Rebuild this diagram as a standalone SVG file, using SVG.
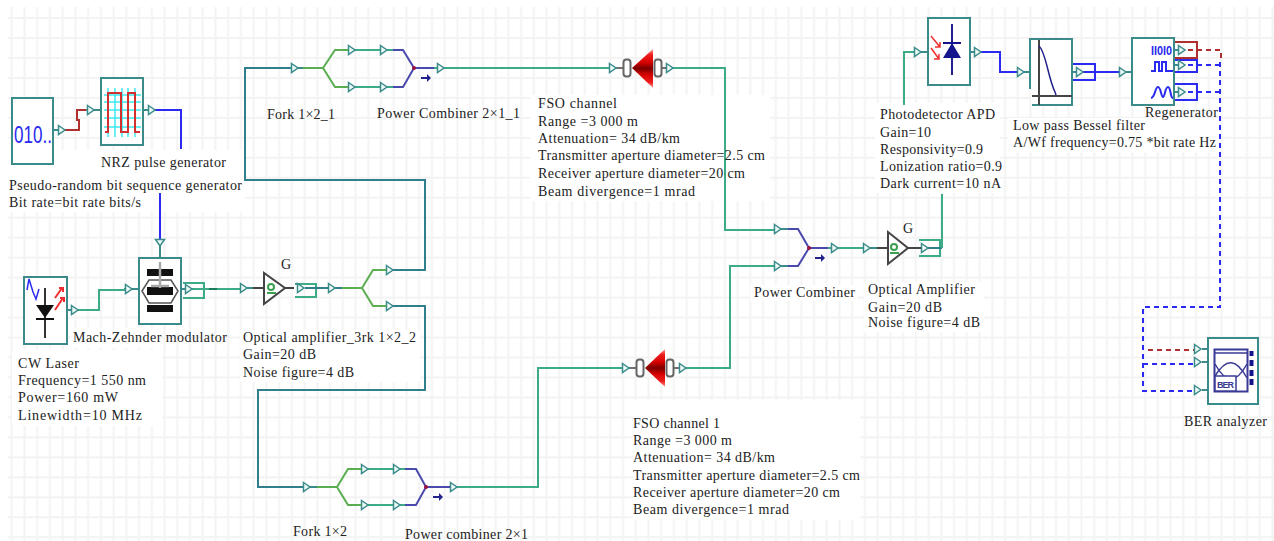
<svg xmlns="http://www.w3.org/2000/svg" xmlns:xlink="http://www.w3.org/1999/xlink" width="1274" height="541" viewBox="0 0 1274 541">
<style>
text{font-family:"Liberation Serif","Times New Roman",serif;font-size:14px;fill:#222}
.bx{fill:#fff;stroke:#3b8b8b;stroke-width:2}
.w{fill:#fff}
.l{fill:none;stroke-width:2;stroke-linejoin:miter}
.gn{stroke:#3dab88}.td{stroke:#2f7f8c}.fk{stroke:#5aae50}.pc{stroke:#4a49ac}.bl{stroke:#2a2af0}.rd{stroke:#b03030}
.st{fill:none;stroke:#3b8b8b;stroke-width:2}
.dsh{stroke-dasharray:5 4}
.pt{fill:#eefaf6;stroke:#3b8b8b;stroke-width:1.5}
</style>
<defs>
<pattern id="grid" width="12.735" height="19.97" patternUnits="userSpaceOnUse" x="5.33" y="8">
<path d="M0,9.985H12.735M6.367,0V19.97" fill="none" stroke="#f3f3f3" stroke-width="2"/>
</pattern>
<path id="tri" class="pt" d="M-3.500,-4.500L3,0L-3.500,4.500Z"/>
<path id="arr" d="M-5,-1H1V-4L5,0L1,4V1H-5Z" fill="#22228c"/>
<g id="lens"><rect x="-3.500" y="-8.500" width="7" height="17" rx="3" fill="#fff" stroke="#666" stroke-width="2"/></g>
<linearGradient id="cone" x1="0" y1="0" x2="0" y2="1"><stop offset="0" stop-color="#ffa8a8"/><stop offset=".14" stop-color="#f02020"/><stop offset=".34" stop-color="#d80000"/><stop offset=".5" stop-color="#7a0000"/><stop offset=".66" stop-color="#d80000"/><stop offset=".86" stop-color="#f02020"/><stop offset="1" stop-color="#ffa8a8"/></linearGradient>
</defs>
<rect width="1274" height="541" fill="#fff"/>
<rect x="8" y="7" width="1266" height="534" fill="url(#grid)"/>
<g id="label-backgrounds">
<rect class="w" x="5" y="150" width="240" height="62"/>
<rect class="w" x="70" y="328" width="90" height="20"/>
<rect class="w" x="12" y="350" width="150" height="76"/>
<rect class="w" x="240" y="330" width="180" height="52"/>
<rect class="w" x="530" y="95" width="240" height="106"/>
<rect class="w" x="633" y="400" width="227" height="120"/>
<rect class="w" x="875" y="103" width="125" height="90"/>
<rect class="w" x="1008" y="118" width="212" height="34"/>
<rect class="w" x="864" y="282" width="120" height="50"/>
<rect class="w" x="750" y="285" width="108" height="16"/>
</g>
<g id="connectors">
<path class="st" d="M53,130H60M86,110H101M143,110H150M160,246V258M67,310H73M124,289H139M181,289H187M240,288H253M390,270H394M390,306H394M290,68H303M304,487H317M609,68H617M666,68H674M622,368H630M679,368H687M775,229H788M775,266H788M864,248H877M915,52H928M970,52H976M1018,72H1030M1072,72H1078M1120,72H1132M1174,50H1180M1174,65H1180M1174,92H1180"/>
<path class="l rd" d="M64,130H79V120H77V110H86"/>
<path class="l bl" d="M155,110H181V149"/>
<path class="l bl" d="M160,193V240"/>
<path class="l gn" d="M78,310H99V290H127"/>
<path class="l gn" d="M183,283H204V298H183M192,289H240"/>
<path class="l" stroke="#1f7a5c" d="M209,289H217"/>
<path class="l gn" d="M295,284H316V297H295"/>
<path class="l td" d="M305,288H342"/>
<path class="l td" d="M393,270H425V180H245V68H292"/>
<path class="l td" d="M393,306H425V390H258V487H304"/>
<path class="l gn" d="M348,50H393M348,87H393"/>
<path class="l gn" d="M434,68H610"/>
<path class="l gn" d="M672,68H725V230H775"/>
<path class="l gn" d="M361,469H405M361,505H405"/>
<path class="l gn" d="M450,487H538V368H623"/>
<path class="l gn" d="M685,368H730V266H775"/>
<path class="l gn" d="M828,248H864"/>
<path class="l gn" d="M919,240H940V256H919"/>
<path class="l td" d="M921,248H942"/>
<path class="l gn" d="M942,248V194"/>
<path class="l gn" d="M904,105V52H915"/>
<path class="l bl" d="M981,52H1000V72H1018"/>
<path class="l bl" d="M1073,64H1095V80H1073M1083,72H1120"/>
<path class="l rd" d="M1175,42H1197V58H1175"/>
<path class="l bl" d="M1175,60H1197V72H1175M1175,84H1197V100H1175"/>
<path class="l rd dsh" d="M1188,50H1221V62"/>
<path class="l bl dsh" d="M1188,65H1221M1188,92H1221"/>
<path class="l bl dsh" d="M1220,62V307H1143V391H1195M1143,364H1195"/>
<path class="l rd dsh" d="M1148,350H1195"/>
<g id="ports">
<use xlink:href="#tri" x="62" y="130"/><use xlink:href="#tri" x="91" y="110"/><use xlink:href="#tri" x="152" y="110"/>
<use xlink:href="#tri" transform="translate(160,243) rotate(90)"/>
<use xlink:href="#tri" x="75" y="310"/><use xlink:href="#tri" x="129" y="289"/><use xlink:href="#tri" x="189" y="289"/><use xlink:href="#tri" x="244" y="288"/>
<use xlink:href="#tri" x="301" y="288"/><use xlink:href="#tri" x="332" y="288"/><use xlink:href="#tri" x="390" y="270"/><use xlink:href="#tri" x="390" y="306"/>
<use xlink:href="#tri" x="295" y="68"/><use xlink:href="#tri" x="352" y="50"/><use xlink:href="#tri" x="352" y="87"/><use xlink:href="#tri" x="384" y="50"/><use xlink:href="#tri" x="384" y="87"/><use xlink:href="#tri" x="441" y="68"/>
<use xlink:href="#tri" x="613" y="68"/><use xlink:href="#tri" x="670" y="68"/>
<use xlink:href="#tri" x="307" y="487"/><use xlink:href="#tri" x="365" y="469"/><use xlink:href="#tri" x="365" y="505"/><use xlink:href="#tri" x="397" y="469"/><use xlink:href="#tri" x="397" y="505"/><use xlink:href="#tri" x="454" y="487"/>
<use xlink:href="#tri" x="626" y="368"/><use xlink:href="#tri" x="683" y="368"/>
<use xlink:href="#tri" x="778" y="229"/><use xlink:href="#tri" x="778" y="266"/><use xlink:href="#tri" x="835" y="248"/><use xlink:href="#tri" x="867" y="248"/><use xlink:href="#tri" x="925" y="248"/>
<use xlink:href="#tri" x="918" y="52"/><use xlink:href="#tri" x="978" y="52"/><use xlink:href="#tri" x="1021" y="72"/><use xlink:href="#tri" x="1080" y="72"/><use xlink:href="#tri" x="1123" y="72"/>
<use xlink:href="#tri" x="1182" y="50"/><use xlink:href="#tri" x="1182" y="65"/><use xlink:href="#tri" x="1182" y="92"/>
<use xlink:href="#tri" x="1198" y="349"/><use xlink:href="#tri" x="1198" y="362"/><use xlink:href="#tri" x="1198" y="390"/>
</g>
</g>
<g id="prbs">
<rect class="bx" x="12" y="98" width="41" height="66"/>
<text x="14" y="143" style="font-family:'Liberation Sans',sans-serif;font-size:24px;fill:#2a2af0" textLength="38" lengthAdjust="spacingAndGlyphs">010..</text>
<text x="9" y="190" textLength="233">Pseudo-random bit sequence generator</text>
<text x="9" y="207" textLength="132">Bit rate=bit rate bits/s</text>
</g>
<g id="nrz">
<rect class="bx" x="101" y="78" width="42" height="67"/>
<path d="M108,88V137M115,88V137M122,88V137M128,88V137M135,88V137M104,95H141M104,102H141M104,110H141M104,118H141M104,127H141" stroke="#3fe8ee" stroke-width="1.500" fill="none"/>
<path d="M105,132H108V93H121V132H128V93H135V132H140" fill="none" stroke="#d03030" stroke-width="2"/>
<text x="101" y="167" textLength="125">NRZ pulse generator</text>
</g>
<g id="laser">
<rect class="bx" x="24" y="277" width="43" height="67"/>
<path d="M27,290L29,279L33,292L36,299L39,289" fill="none" stroke="#2a2af0" stroke-width="1.500"/>
<path d="M45,288V338" stroke="#333" stroke-width="2"/>
<path d="M36,305H54L45,318Z" fill="#111"/>
<path d="M36,319H54" stroke="#111" stroke-width="2"/>
<path d="M55,298L62,288M59,288H63V292M55,310L63,298M60,298H64V302" fill="none" stroke="#f03030" stroke-width="2"/>
<text x="18" y="368" textLength="61">CW Laser</text>
<text x="18" y="385" textLength="128">Frequency=1 550 nm</text>
<text x="18" y="402" textLength="100">Power=160 mW</text>
<text x="18" y="420" textLength="124">Linewidth=10 MHz</text>
</g>
<g id="mz-modulator">
<rect class="bx" x="139" y="258" width="42" height="66"/>
<rect x="147" y="269" width="26" height="7" fill="#111"/><rect x="147" y="287" width="26" height="8" fill="#111"/><rect x="147" y="305" width="26" height="7" fill="#111"/>
<path d="M142,291L149,280H171L178,291L171,303H149Z" fill="none" stroke="#555" stroke-width="1.500"/>
<path d="M160,262V288M151,286H169" stroke="#aaa" stroke-width="2.500" fill="none"/>
<text x="73" y="342" textLength="154">Mach-Zehnder modulator</text>
</g>
<g id="amp1">
<path d="M253,288H263M285,288H294" stroke="#444" stroke-width="2"/>
<path d="M264,273V304L285,288Z" fill="#fff" stroke="#444" stroke-width="2"/>
<path d="M267,293H276" stroke="#3aa050" stroke-width="2"/><circle cx="271" cy="287" r="3" fill="none" stroke="#3aa050" stroke-width="2"/>
<text x="281" y="269" textLength="10">G</text>
<text x="243" y="342" textLength="173">Optical amplifier_3rk 1×2_2</text>
<text x="243" y="359" textLength="73">Gain=20 dB</text>
<text x="243" y="377" textLength="111">Noise figure=4 dB</text>
</g>
<g id="fork-main">
<path class="l fk" d="M342,288H362L373,270H386M362,288L373,306H386"/>
</g>
<g id="fork-1">
<path class="l fk" d="M303,68H323L335,50H348M323,68L335,87H348"/>
<text x="267" y="119" textLength="68">Fork 1×2_1</text>
</g>
<g id="combiner-1">
<path class="l pc" d="M393,50H403L414,68L403,87H393M414,68H434"/>
<circle cx="414" cy="68" r="2" fill="#a01040"/>
<use xlink:href="#arr" x="426" y="78"/>
<text x="377" y="118" textLength="143">Power Combiner 2×1_1</text>
</g>
<g id="fso-1">
<path d="M617,68H623M661,68H666" stroke="#444" stroke-width="1.500"/>
<path d="M632,68L653,49V88Z" fill="url(#cone)"/>
<use xlink:href="#lens" x="627" y="68"/><use xlink:href="#lens" x="658" y="68"/>
<text x="538" y="108" textLength="79">FSO channel</text>
<text x="538" y="126" textLength="100">Range =3 000 m</text>
<text x="538" y="143" textLength="142">Attenuation= 34 dB/km</text>
<text x="538" y="160" textLength="227">Transmitter aperture diameter=2.5 cm</text>
<text x="538" y="178" textLength="207">Receiver aperture diameter=20 cm</text>
<text x="538" y="196" textLength="157">Beam divergence=1 mrad</text>
</g>
<g id="fork-2">
<path class="l fk" d="M317,487H337L348,469H361M337,487L348,505H361"/>
<text x="293" y="536" textLength="54">Fork 1×2</text>
</g>
<g id="combiner-2">
<path class="l pc" d="M405,469H416L426,487L416,505H405M426,487H450"/>
<circle cx="426" cy="487" r="2" fill="#a01040"/>
<use xlink:href="#arr" x="438" y="497"/>
<text x="405" y="539" textLength="123">Power combiner 2×1</text>
</g>
<g id="fso-2">
<path d="M630,368H636M674,368H679" stroke="#444" stroke-width="1.500"/>
<path d="M645,368L665,349V387Z" fill="url(#cone)"/>
<use xlink:href="#lens" x="640" y="368"/><use xlink:href="#lens" x="670" y="368"/>
<text x="633" y="428" textLength="87">FSO channel 1</text>
<text x="633" y="445" textLength="99">Range =3 000 m</text>
<text x="633" y="462" textLength="142">Attenuation= 34 dB/km</text>
<text x="633" y="480" textLength="227">Transmitter aperture diameter=2.5 cm</text>
<text x="633" y="497" textLength="207">Receiver aperture diameter=20 cm</text>
<text x="633" y="514" textLength="156">Beam divergence=1 mrad</text>
</g>
<g id="combiner-3">
<path class="l pc" d="M788,229H798L809,248L798,266H788M809,248H828"/>
<circle cx="809" cy="248" r="2" fill="#a01040"/>
<use xlink:href="#arr" x="820" y="258"/>
<text x="754" y="297" textLength="101">Power Combiner</text>
</g>
<g id="amp2">
<path d="M877,248H888M908,248H921" stroke="#444" stroke-width="2"/>
<path d="M888,232V264L908,248Z" fill="#fff" stroke="#444" stroke-width="2"/>
<path d="M890,253H899" stroke="#3aa050" stroke-width="2"/><circle cx="894" cy="247" r="3" fill="none" stroke="#3aa050" stroke-width="2"/>
<text x="903" y="233" textLength="10">G</text>
<text x="868" y="294" textLength="107">Optical Amplifier</text>
<text x="868" y="312" textLength="74">Gain=20 dB</text>
<text x="868" y="327" textLength="112">Noise figure=4 dB</text>
</g>
<g id="apd">
<rect class="bx" x="928" y="18" width="42" height="67"/>
<path d="M952,24V75" stroke="#22228c" stroke-width="2"/>
<path d="M943,58H961L952,43Z" fill="#14148c"/>
<path d="M943,43H961" stroke="#14148c" stroke-width="2"/>
<path d="M931,36L940,47M940,42V47H935M931,48L939,59M939,54V59H934" fill="none" stroke="#f03030" stroke-width="1.500"/>
<text x="880" y="119" textLength="115">Photodetector APD</text>
<text x="880" y="137" textLength="51">Gain=10</text>
<text x="880" y="154" textLength="103">Responsivity=0.9</text>
<text x="880" y="171" textLength="122">Lonization ratio=0.9</text>
<text x="880" y="188" textLength="121">Dark current=10 nA</text>
</g>
<g id="filter">
<path class="bx" d="M1030,89V39H1072V105H1032"/>
<path d="M1039,40V105M1032,96H1072" stroke="#444" stroke-width="2"/>
<path d="M1039,46C1046,52 1048,78 1055,92L1056,95" fill="none" stroke="#22228c" stroke-width="1.500"/>
<text x="1013" y="130" textLength="132">Low pass Bessel filter</text>
<text x="1013" y="147" textLength="203">A/Wf frequency=0.75 *bit rate Hz</text>
</g>
<g id="regenerator">
<rect class="bx" x="1132" y="38" width="42" height="67"/>
<text x="1151" y="55" style="font-family:'Liberation Sans',sans-serif;font-size:12px;font-weight:bold;fill:#2a2af0" textLength="21" lengthAdjust="spacingAndGlyphs">II0I0</text>
<path d="M1151,71H1155V62H1159V71H1162V62H1166V71H1173M1151,98C1155,98 1155,87 1158,87C1161,87 1161,97 1163,97C1165,97 1165,87 1168,87C1171,87 1170,98 1173,98" fill="none" stroke="#2a2af0" stroke-width="2"/>
<text x="1145" y="117" textLength="73">Regenerator</text>
</g>
<g id="ber">
<path d="M1202,349H1208M1202,362H1208M1202,390H1208" stroke="#3b8b8b" stroke-width="2"/>
<rect class="bx" x="1208" y="338" width="50" height="66"/>
<rect x="1214.500" y="349.500" width="33" height="42" fill="#fff" stroke="#3a3a96" stroke-width="2"/>
<path d="M1215,353H1247M1215,376C1226,358 1236,358 1247,378M1215,364C1226,384 1236,384 1247,364" fill="none" stroke="#3a3a96" stroke-width="1.500"/>
<rect x="1215" y="376" width="21" height="15" fill="#fff" stroke="#3a3a96" stroke-width="1.500"/>
<text x="1217" y="388" style="font-family:'Liberation Sans',sans-serif;font-size:9px;font-weight:bold;fill:#3a3a96" textLength="17">BER</text>
<path d="M1251.500,351v5M1251.500,360v6M1251.500,370v6M1251.500,379v6" stroke="#14148c" stroke-width="4"/>
<text x="1184" y="426" textLength="83">BER analyzer</text>
</g>
</svg>
